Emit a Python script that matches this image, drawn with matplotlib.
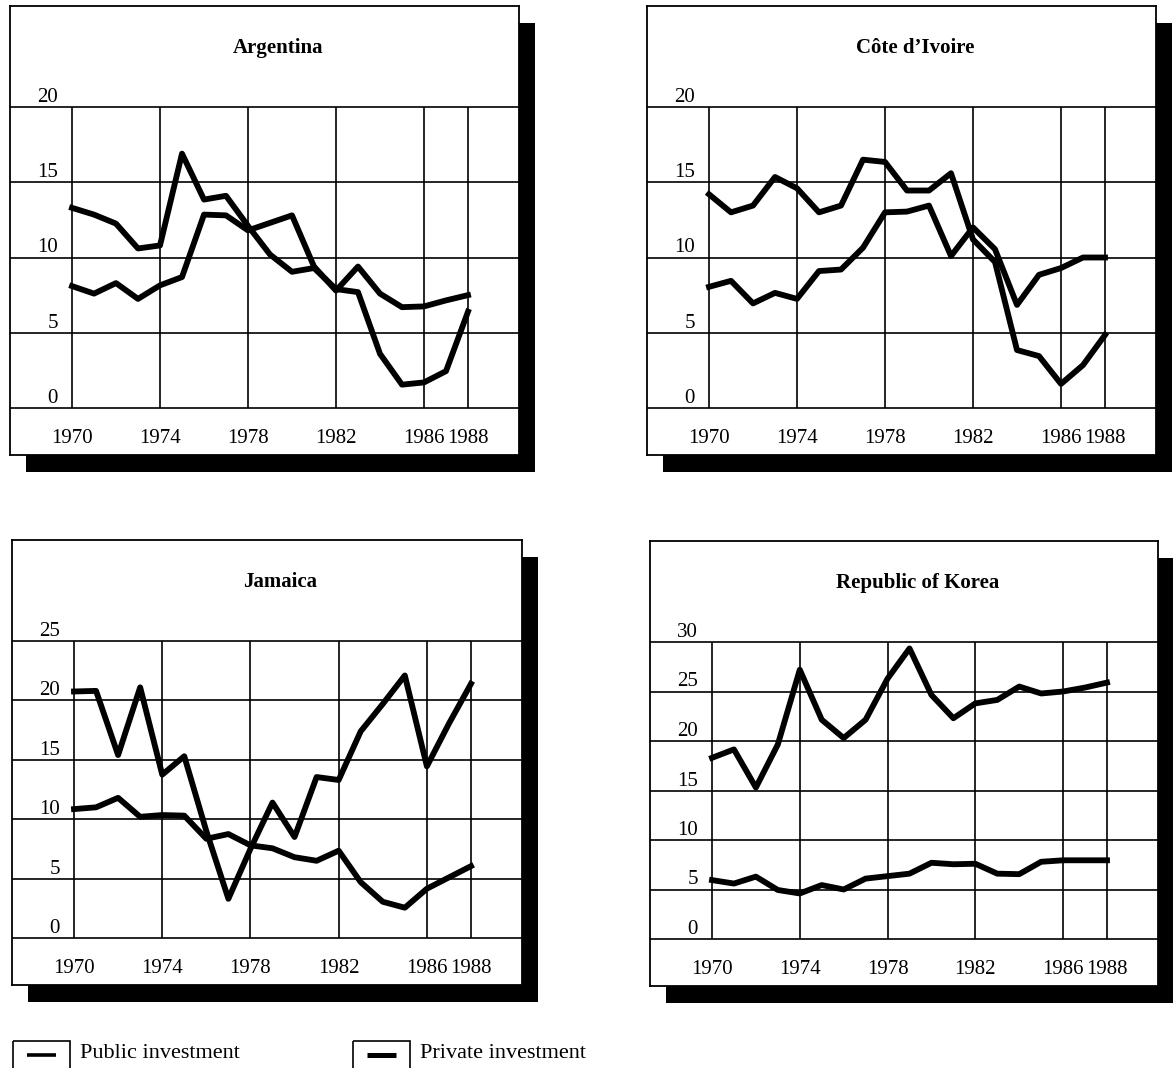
import matplotlib.pyplot as plt
from matplotlib.patches import Rectangle

# --- data (percent of GDP) ---
years = list(range(1970, 1989))
grid_years = [1970, 1974, 1978, 1982, 1986, 1988]
year_labels = ["1970", "1974", "1978", "1982", "1986", "1988"]

arg_private = [13.3, 12.85, 12.25, 10.6, 10.8, 16.9, 13.85, 14.1, 12.1, 10.2,
               9.05, 9.3, 7.9, 7.7, 3.6, 1.55, 1.7, 2.45, 6.4]
arg_public = [8.1, 7.6, 8.3, 7.25, 8.15, 8.7, 12.85, 12.8, 11.8, 12.3,
              12.8, 9.4, 7.8, 9.4, 7.6, 6.7, 6.75, 7.15, 7.5]

civ_public = [14.2, 13.0, 13.45, 15.35, 14.6, 13.0, 13.45, 16.5, 16.35, 14.45,
              14.45, 15.6, 11.2, 9.7, 3.85, 3.45, 1.6, 2.85, 4.85]
civ_private = [8.05, 8.45, 6.95, 7.65, 7.25, 9.1, 9.2, 10.65, 13.0, 13.05,
               13.45, 10.1, 12.0, 10.55, 6.85, 8.85, 9.3, 10.0, 10.0]

jam_private = [20.75, 20.8, 15.4, 21.1, 13.75, 15.3, 9.0, 3.3, 7.5, 11.4,
               8.5, 13.55, 13.3, 17.4, 19.7, 22.1, 14.45, 18.05, 21.4]
jam_public = [10.85, 11.0, 11.8, 10.2, 10.35, 10.3, 8.35, 8.75, 7.8, 7.55,
              6.8, 6.5, 7.35, 4.7, 3.05, 2.55, 4.15, 5.1, 6.05]

kor_private = [18.3, 19.15, 15.3, 19.65, 27.2, 22.15, 20.3, 22.15, 26.3, 29.35,
               24.65, 22.3, 23.8, 24.15, 25.5, 24.8, 25.0, 25.4, 25.9]
kor_public = [5.95, 5.6, 6.3, 4.95, 4.6, 5.45, 5.0, 6.1, 6.35, 6.6,
              7.7, 7.55, 7.6, 6.6, 6.55, 7.8, 7.95, 7.95, 7.95]

titles = ["Argentina", "Côte d\u2019Ivoire", "Jamaica", "Republic of Korea"]
y_max = [20, 20, 25, 30]
public_series = [arg_public, civ_public, jam_public, kor_public]
private_series = [arg_private, civ_private, jam_private, kor_private]

# --- layout (pixels) ---
W, H = 1173, 1068
# panel boxes: left, top, right, bottom
boxes = [(10, 6, 519, 455), (647, 6, 1156, 455),
         (12, 540, 522, 985), (650, 541, 1158, 986)]
GAP_L, GAP_R, GAP_T, GAP_B = 62, 51, 101, 47
SHADOW = (16, 17)

plt.rcParams['font.family'] = ['Liberation Serif', 'DejaVu Serif']

fig = plt.figure(figsize=(W / 100, H / 100), dpi=100)
fig.patch.set_facecolor('white')


def draw_panel(box, title, ymax, s1, s2):
    left, top, right, bottom = box
    ax = fig.add_axes([left / W, 1 - bottom / H, (right - left) / W, (bottom - top) / H])
    ax.set_facecolor('white')

    px_year = (right - left - GAP_L - GAP_R) / 18
    ax.set_xlim(1970 - GAP_L / px_year, 1988 + GAP_R / px_year)
    unit = (bottom - top - GAP_T - GAP_B) / ymax
    ax.set_ylim(-GAP_B / unit, ymax + GAP_T / unit)
    ax.set_xticks([])
    ax.set_yticks([])
    for sp in ax.spines.values():
        sp.set_linewidth(1.3)
        sp.set_color('black')

    # drop shadow behind the box
    sx, sy = SHADOW[0] / (right - left), SHADOW[1] / (bottom - top)
    fig.add_artist(Rectangle((sx, -sy), 1, 1, transform=ax.transAxes,
                             facecolor='black', edgecolor='none', zorder=-1))

    # grid
    for v in range(0, ymax + 1, 5):
        ax.axhline(v, color='black', lw=1.2, zorder=1)
        ax.annotate(str(v), (1970, v), xytext=(-14, 5), textcoords='offset pixels',
                    ha='right', va='baseline', fontsize=15)
    ax.vlines(grid_years, 0, ymax, color='black', lw=1.2, zorder=1)
    for yr, lab in zip(grid_years, year_labels):
        ax.annotate(lab, (yr, 0), xytext=(0, -35), textcoords='offset pixels',
                    ha='center', va='baseline', fontsize=15)

    ax.plot(years, s1, color='black', lw=4.2, zorder=3)
    ax.plot(years, s2, color='black', lw=4.2, zorder=3)

    ax.annotate(title, (1979.35, ymax), xytext=(0, 54), textcoords='offset pixels',
                ha='center', va='baseline', fontsize=15, fontweight='bold')


for box, t, ym, pub, priv in zip(boxes, titles, y_max, public_series, private_series):
    draw_panel(box, t, ym, pub, priv)

# --- legend strip at the bottom ---
lax = fig.add_axes([0, 0, 1, 40 / H])
lax.set_xlim(0, W)
lax.set_ylim(H, H - 40)
lax.axis('off')

legend_items = [("Public investment", 13, 2.6), ("Private investment", 353, 3.6)]
for label, x0, dash_w in legend_items:
    lax.add_patch(Rectangle((x0, 1041), 57, 40, fill=False, edgecolor='black', lw=1.2))
    lax.plot([x0 + 14, x0 + 43], [1055, 1055], color='black', lw=dash_w,
             solid_capstyle='butt')
    lax.text(x0 + 67, 1058, label, ha='left', va='baseline', fontsize=16)

fig.savefig('out.png', dpi=100, facecolor='white')
